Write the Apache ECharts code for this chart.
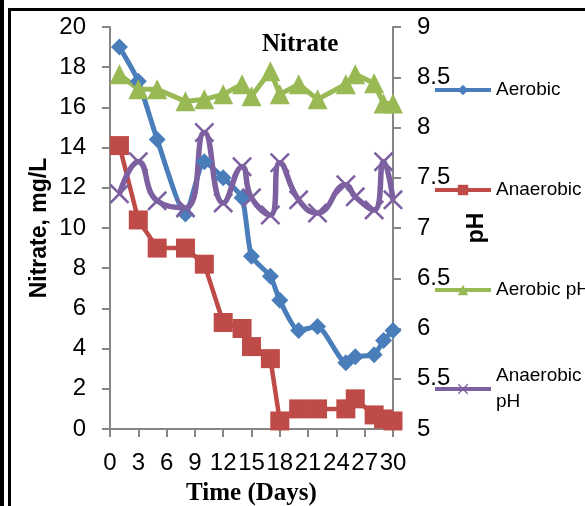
<!DOCTYPE html>
<html>
<head>
<meta charset="utf-8">
<script src="https://cdn.jsdelivr.net/npm/echarts@6/dist/echarts.min.js"></script>
<style>
  html, body { margin: 0; padding: 0; background: #fff; }
  #chart { width: 585px; height: 506px; }
</style>
</head>
<body>
<div id="chart"></div>
<script>
// values
const days = [1, 3, 5, 8, 10, 12, 14, 15, 17, 18, 20, 22, 25, 26, 28, 29, 30]
const aerobic = [19.0, 17.3, 14.4, 10.7, 13.3, 12.5, 11.5, 8.6, 7.6, 6.4, 4.9, 5.1, 3.3, 3.6, 3.7, 4.4, 4.9]
const anaerobic = [14.1, 10.4, 9.0, 9.0, 8.2, 5.3, 5.0, 4.1, 3.5, 0.4, 1.0, 1.0, 1.0, 1.5, 0.7, 0.5, 0.4]
const aerobicPH = [8.53, 8.38, 8.38, 8.26, 8.28, 8.33, 8.43, 8.31, 8.56, 8.33, 8.43, 8.28, 8.43, 8.53, 8.44, 8.24, 8.24]
const anaerobicPH = [7.34, 7.66, 7.27, 7.2, 7.95, 7.25, 7.61, 7.3, 7.13, 7.65, 7.28, 7.15, 7.43, 7.31, 7.18, 7.66, 7.28]

const names = ['Aerobic', 'Anaerobic', 'Aerobic pH', 'Anaerobic pH']
const colors = ['#4A7EBB', '#BE4B48', '#98B954', '#7D60A0']

const crossPath = 'path://M0,1.8L1.8,0L10,8.2L18.2,0L20,1.8L11.8,10L20,18.2L18.2,20L10,11.8L1.8,20L0,18.2L8.2,10Z'

const pairs = vals => days.map((d, i) => [d, vals[i]])

const axisGray = '#868686'
const sans = 'Liberation Sans'

const chart = echarts.init(document.getElementById('chart'))

const legendTops = [77, 177, 277, 350]
const legends = names.map((n, i) => ({
  data: [n],
  left: 433,
  top: legendTops[i],
  orient: 'vertical',
  itemWidth: 56,
  itemHeight: 13,
  itemGap: 0,
  padding: 0,
  lineStyle: { width: 4 },
  formatter: name => name === 'Anaerobic pH' ? 'Anaerobic\npH' : name,
  textStyle: {
    fontFamily: sans,
    fontSize: 19,
    lineHeight: 26,
    color: '#000',
    padding: i === 3 ? [26, 0, 0, 0] : 0
  }
}))

chart.setOption({
  animation: false,
  color: colors,
  title: {
    text: 'Nitrate',
    left: 262,
    top: 32,
    padding: 0,
    textStyle: {
      fontFamily: 'Liberation Serif',
      fontWeight: 'bold',
      fontSize: 25,
      color: '#000'
    }
  },
  legend: legends,
  grid: {
    left: 110,
    right: 192,
    top: 27,
    bottom: 77,
    containLabel: false,
    outerBoundsMode: 'none'
  },
  xAxis: {
    type: 'value',
    min: 0,
    max: 30,
    interval: 3,
    name: 'Time (Days)',
    nameLocation: 'middle',
    nameGap: 52,
    nameTextStyle: {
      fontFamily: 'Liberation Serif',
      fontWeight: 'bold',
      fontSize: 25,
      color: '#000'
    },
    axisLine: { onZero: false, lineStyle: { color: axisGray, width: 2 } },
    axisTick: { length: 8, lineStyle: { color: axisGray, width: 2 } },
    axisLabel: { margin: 22, fontFamily: sans, fontSize: 24, color: '#000' },
    splitLine: { show: false }
  },
  yAxis: [
    {
      type: 'value',
      min: 0,
      max: 20,
      interval: 2,
      name: 'Nitrate, mg/L',
      nameLocation: 'middle',
      nameGap: 59,
      nameTextStyle: {
        fontFamily: sans,
        fontWeight: 'bold',
        fontSize: 23,
        color: '#000'
      },
      axisLine: { show: true, lineStyle: { color: axisGray, width: 2 } },
      axisTick: { show: true, length: 8, lineStyle: { color: axisGray, width: 2 } },
      axisLabel: { margin: 24, fontFamily: sans, fontSize: 24, color: '#000' },
      splitLine: { show: false }
    },
    {
      type: 'value',
      min: 5,
      max: 9,
      interval: 0.5,
      position: 'right',
      name: 'pH',
      nameLocation: 'middle',
      nameRotate: 90,
      nameGap: 72,
      nameTextStyle: {
        fontFamily: sans,
        fontWeight: 'bold',
        fontSize: 23,
        color: '#000'
      },
      axisLine: { show: true, lineStyle: { color: axisGray, width: 2 } },
      axisTick: { show: true, length: 8, lineStyle: { color: axisGray, width: 2 } },
      axisLabel: { margin: 24, fontFamily: sans, fontSize: 24, color: '#000' },
      splitLine: { show: false }
    }
  ],
  series: [
    {
      name: names[0],
      type: 'line',
      yAxisIndex: 0,
      data: pairs(aerobic),
      smooth: 0.2,
      symbol: 'diamond',
      symbolSize: 17,
      lineStyle: { width: 5 },
      itemStyle: { color: colors[0] }
    },
    {
      name: names[1],
      type: 'line',
      yAxisIndex: 0,
      data: pairs(anaerobic),
      symbol: 'rect',
      symbolSize: 19,
      lineStyle: { width: 4.5 },
      itemStyle: { color: colors[1] }
    },
    {
      name: names[2],
      type: 'line',
      yAxisIndex: 1,
      data: pairs(aerobicPH),
      symbol: 'triangle',
      symbolSize: 20,
      lineStyle: { width: 5 },
      itemStyle: { color: colors[2] }
    },
    {
      name: names[3],
      type: 'line',
      yAxisIndex: 1,
      data: pairs(anaerobicPH),
      smooth: 0.5,
      symbol: crossPath,
      symbolSize: 20,
      lineStyle: { width: 5.5 },
      itemStyle: { color: colors[3] }
    }
  ],
  graphic: [
    { type: 'rect', shape: { x: 0, y: 0, width: 4, height: 506 }, style: { fill: '#000' } },
    { type: 'rect', shape: { x: 8, y: 8, width: 3, height: 498 }, style: { fill: '#000' } },
    { type: 'rect', shape: { x: 8, y: 8, width: 577, height: 3 }, style: { fill: '#000' } }
  ]
})
</script>
</body>
</html>
